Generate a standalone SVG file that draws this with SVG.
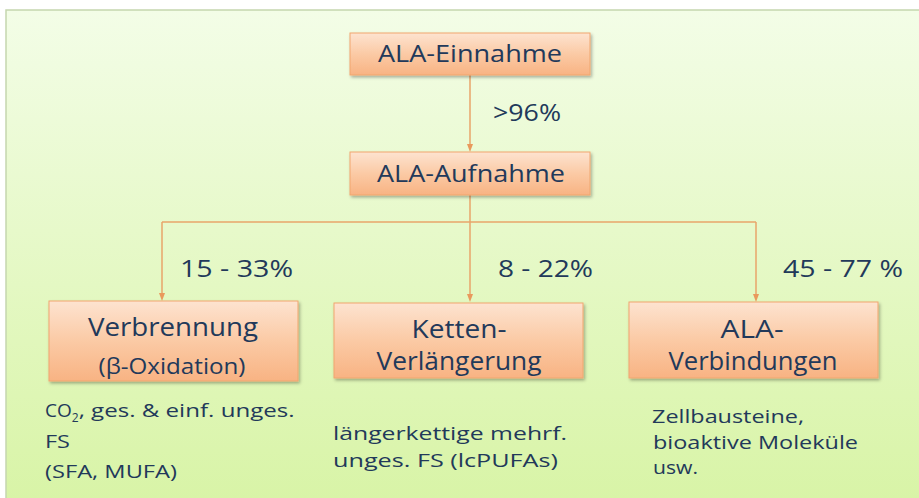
<svg xmlns="http://www.w3.org/2000/svg" width="919" height="498" viewBox="0 0 919 498">
<defs>
<linearGradient id="bg" x1="0" y1="0" x2="0" y2="1">
<stop offset="0" stop-color="#f3fde7"/>
<stop offset="1" stop-color="#d8f4a6"/>
</linearGradient>
<linearGradient id="box" x1="0" y1="0" x2="0" y2="1">
<stop offset="0" stop-color="#fde3d0"/>
<stop offset="0.5" stop-color="#fbcaa5"/>
<stop offset="1" stop-color="#f8b383"/>
</linearGradient>
<filter id="sh" x="-5%" y="-10%" width="115%" height="130%">
<feDropShadow dx="1.5" dy="2" stdDeviation="1.5" flood-color="#000" flood-opacity="0.3"/>
</filter>
<marker id="ah" markerWidth="8" markerHeight="8" refX="4" refY="4" orient="auto" markerUnits="userSpaceOnUse">
<path d="M0,1 L8,4 L0,7 Z" fill="#e9995c"/>
</marker>
<style>
.bx{fill:url(#box);stroke:#f1a66f;stroke-width:1;filter:url(#sh)}
.t{font-family:"Open Sans","Liberation Sans",sans-serif;fill:#22395a;text-anchor:middle}
.top{font-size:24px}
.big{font-size:25px}
.sm{font-size:21px}
.lbl{font-size:24px;text-anchor:start}
.note{font-family:"Open Sans","Liberation Sans",sans-serif;fill:#22395a;font-size:19px}
.c{fill:none;stroke:#e9a46a;stroke-width:1.5}
</style>
</defs>
<rect x="6" y="10" width="920" height="495" fill="url(#bg)" stroke="#c5d6ae" stroke-width="1.5"/>
<g id="connectors">
<path class="c" d="M470,75 V148" marker-end="url(#ah)"/>
<path class="c" d="M470,195 V298" marker-end="url(#ah)"/>
<path class="c" d="M162,222 H756"/>
<path class="c" d="M162,222 V297" marker-end="url(#ah)"/>
<path class="c" d="M756,222 V298" marker-end="url(#ah)"/>
<text class="t lbl" x="493" y="121" textLength="68" lengthAdjust="spacingAndGlyphs">&gt;96%</text>
<text class="t lbl" x="180" y="277" textLength="113" lengthAdjust="spacingAndGlyphs">15 - 33%</text>
<text class="t lbl" x="498" y="277" textLength="95" lengthAdjust="spacingAndGlyphs">8 - 22%</text>
<text class="t lbl" x="783" y="277" textLength="120" lengthAdjust="spacingAndGlyphs">45 - 77 %</text>
</g>
<g id="n1">
<rect class="bx" x="350" y="33" width="240" height="42"/>
<text class="t top" x="470" y="62" textLength="184" lengthAdjust="spacingAndGlyphs">ALA-Einnahme</text>
</g>
<g id="n2">
<rect class="bx" x="350" y="152" width="240" height="43"/>
<text class="t top" x="471" y="182" textLength="188" lengthAdjust="spacingAndGlyphs">ALA-Aufnahme</text>
</g>
<g id="n3">
<rect class="bx" x="49" y="301" width="249" height="80"/>
<text class="t big" x="173" y="336" textLength="170" lengthAdjust="spacingAndGlyphs">Verbrennung</text>
<text class="t sm" x="172" y="374" textLength="147" lengthAdjust="spacingAndGlyphs">(β-Oxidation)</text>
</g>
<g id="n4">
<rect class="bx" x="334" y="303" width="249" height="75"/>
<text class="t big" x="459" y="338" textLength="95" lengthAdjust="spacingAndGlyphs">Ketten-</text>
<text class="t big" x="459" y="370" textLength="165" lengthAdjust="spacingAndGlyphs">Verlängerung</text>
</g>
<g id="n5">
<rect class="bx" x="629" y="302" width="249" height="76"/>
<text class="t big" x="752" y="338" textLength="63" lengthAdjust="spacingAndGlyphs">ALA-</text>
<text class="t big" x="753" y="370" textLength="169" lengthAdjust="spacingAndGlyphs">Verbindungen</text>
</g>
<g id="notes">
<text class="note" x="45" y="417">CO<tspan font-size="12" dy="5">2</tspan><tspan dy="-5" textLength="216" lengthAdjust="spacingAndGlyphs">, ges. &amp; einf. unges.</tspan></text>
<text class="note" x="45" y="448" textLength="25" lengthAdjust="spacingAndGlyphs">FS</text>
<text class="note" x="45" y="478" textLength="132" lengthAdjust="spacingAndGlyphs">(SFA, MUFA)</text>
<text class="note" x="333" y="440" textLength="234" lengthAdjust="spacingAndGlyphs">längerkettige mehrf.</text>
<text class="note" x="333" y="467" textLength="225" lengthAdjust="spacingAndGlyphs">unges. FS (lcPUFAs)</text>
<text class="note" x="652" y="423" textLength="152" lengthAdjust="spacingAndGlyphs">Zellbausteine,</text>
<text class="note" x="653" y="449" textLength="205" lengthAdjust="spacingAndGlyphs">bioaktive Moleküle</text>
<text class="note" x="653" y="474" textLength="45" lengthAdjust="spacingAndGlyphs">usw.</text>
</g>
</svg>
